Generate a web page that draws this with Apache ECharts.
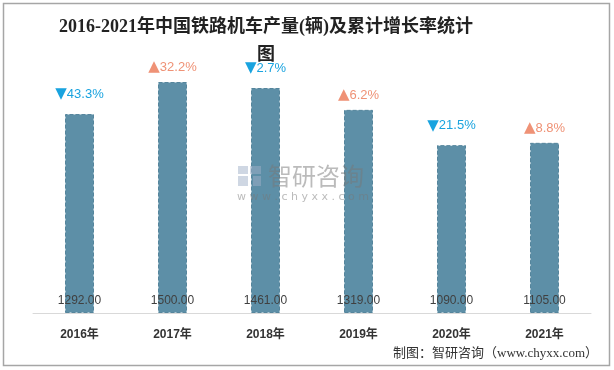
<!DOCTYPE html>
<html><head><meta charset="utf-8">
<script src="https://cdn.jsdelivr.net/npm/echarts@6/dist/echarts.min.js"></script>
<style>html,body{margin:0;padding:0;background:#fff}#c{width:614px;height:370px}</style>
</head><body><div id="c"></div>
<script>
const years = ['2016年','2017年','2018年','2019年','2020年','2021年'];
const production = [1292, 1500, 1461, 1319, 1090, 1105];
const growth = [43.3, 32.2, 2.7, 6.2, 21.5, 8.8];
const direction = ['down','up','down','up','down','up'];

const chart = echarts.init(document.getElementById('c'), null, {renderer:'canvas'});
const labelFont = '"Liberation Sans","DejaVu Sans",sans-serif';
const topLabels = production.map((v, i) => ({
  value: v,
  label: {distance: direction[i] === 'up' ? 7 : 12}
}));
const option = {
  animation: false,
  backgroundColor: '#fff',
  title: {
    text: '2016-2021年中国铁路机车产量(辆)及累计增长率统计\n图',
    left: 261, top: 8, textAlign: 'center',
    textStyle: {fontFamily: '"Liberation Serif","Noto Sans CJK SC",serif', fontSize: 18, fontWeight: 'bold', color: '#222', lineHeight: 28}
  },
  grid: {left: 33, right: 23, top: 66.6, bottom: 57},
  xAxis: {
    type: 'category', data: years,
    axisLine: {lineStyle: {color: '#d9d9d9', width: 1}},
    axisTick: {show: false},
    axisLabel: {margin: 16, fontSize: 12, fontWeight: 'bold', color: '#333', fontFamily: '"Liberation Sans","Noto Sans CJK SC",sans-serif'}
  },
  yAxis: {type: 'value', min: 0, max: 1600, show: false, splitLine: {show: false}},
  series: [
    {
      type: 'bar', data: production, barWidth: 29, z: 2,
      itemStyle: {color: '#5d8fa7', borderColor: '#55859c', borderWidth: 1, borderType: 'dashed'},
      label: {show: true, position: 'insideBottom', distance: 6, formatter: p => p.value.toFixed(2),
        fontSize: 12, color: '#404040', fontFamily: labelFont}
    },
    {
      type: 'bar', data: topLabels, barWidth: 29, barGap: '-100%', z: 3,
      itemStyle: {color: 'rgba(0,0,0,0)'},
      label: {show: true, position: 'top',
        formatter: p => direction[p.dataIndex] === 'up'
          ? '{ut|▲}{u|' + growth[p.dataIndex].toFixed(1) + '%}'
          : '{dt|▼}{d|' + growth[p.dataIndex].toFixed(1) + '%}',
        rich: {
          ut: {color: '#ef9276', fontSize: 15, fontFamily: '"DejaVu Sans",sans-serif'},
          u: {color: '#ef9276', fontSize: 13, fontFamily: labelFont},
          dt: {color: '#19a3df', fontSize: 15, fontFamily: '"DejaVu Sans",sans-serif'},
          d: {color: '#19a3df', fontSize: 13, fontFamily: labelFont}
        }
      }
    }
  ],
  graphic: [
    {type: 'rect', shape: {x: 3.5, y: 3.5, width: 606, height: 362}, style: {fill: 'none', stroke: '#a6a6a6', lineWidth: 1.5}, z: 100},
    {type: 'rect', z: 100, shape: {x: 238, y: 166, width: 10, height: 8}, style: {fill: 'rgba(160,175,200,0.5)'}},
    {type: 'rect', z: 100, shape: {x: 250, y: 166, width: 11, height: 8}, style: {fill: 'rgba(160,175,200,0.5)'}},
    {type: 'rect', z: 100, shape: {x: 238, y: 176, width: 10, height: 10}, style: {fill: 'rgba(160,175,200,0.5)'}},
    {type: 'rect', z: 100, shape: {x: 253, y: 176, width: 8, height: 10}, style: {fill: 'rgba(160,175,200,0.5)'}},
    {type: 'text', z: 100, x: 268, y: 176, style: {text: '智研咨询', font: '24px "Noto Sans CJK SC"', fill: 'rgba(120,120,120,0.5)', textVerticalAlign: 'middle'}},
    {type: 'text', z: 100, x: 237, y: 197, style: {text: 'w w w . c h y x x . c o m', font: '11px "DejaVu Sans"', fill: 'rgba(120,120,120,0.5)', textVerticalAlign: 'middle'}},
    {type: 'text', z: 100, right: 16, top: 347, style: {text: '制图：智研咨询（www.chyxx.com）', font: '13px "Liberation Serif","Noto Sans CJK SC"', fill: '#333'}}
  ]
};
chart.setOption(option);
</script></body></html>
